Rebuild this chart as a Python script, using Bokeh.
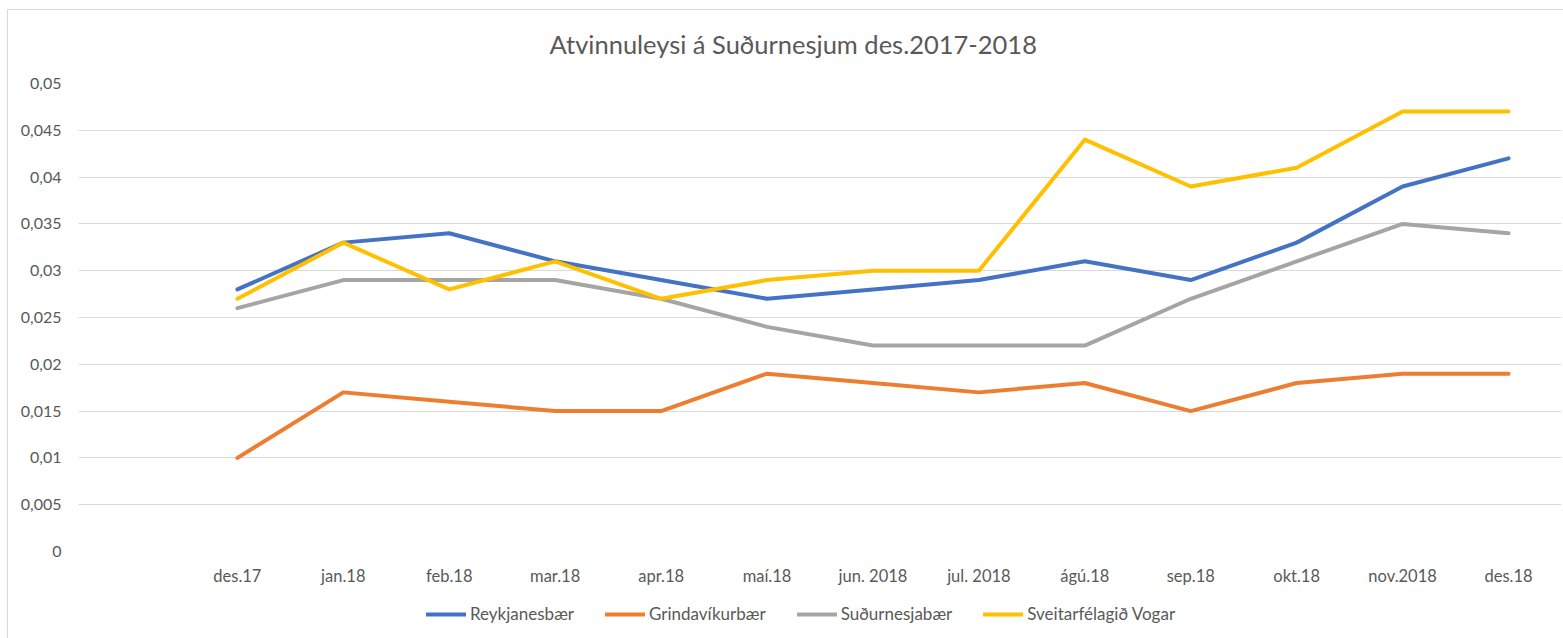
from bokeh.plotting import figure
from bokeh.layouts import column
from bokeh.models import FactorRange, Range1d, FixedTicker, Legend, LegendItem
from bokeh.embed import file_html
from bokeh.resources import INLINE

# ---- data ----
months = ["des.17", "jan.18", "feb.18", "mar.18", "apr.18", "maí.18", "jun. 2018",
          "jul. 2018", "ágú.18", "sep.18", "okt.18", "nov.2018", "des.18"]
reykjanesbaer = [0.028, 0.033, 0.034, 0.031, 0.029, 0.027, 0.028, 0.029, 0.031, 0.029, 0.033, 0.039, 0.042]
grindavikurbaer = [0.010, 0.017, 0.016, 0.015, 0.015, 0.019, 0.018, 0.017, 0.018, 0.015, 0.018, 0.019, 0.019]
sudurnesjabaer = [0.026, 0.029, 0.029, 0.029, 0.027, 0.024, 0.022, 0.022, 0.022, 0.027, 0.031, 0.035, 0.034]
vogar = [0.027, 0.033, 0.028, 0.031, 0.027, 0.029, 0.030, 0.030, 0.044, 0.039, 0.041, 0.047, 0.047]
series_names = ["Reykjanesbær", "Grindavíkurbær", "Suðurnesjabær", "Sveitarfélagið Vogar"]
y_ticks = [0, 0.005, 0.01, 0.015, 0.02, 0.025, 0.03, 0.035, 0.04, 0.045, 0.05]
y_tick_labels = ["0", "0,005", "0,01", "0,015", "0,02", "0,025", "0,03", "0,035", "0,04", "0,045", "0,05"]
title_text = "Atvinnuleysi á Suðurnesjum des.2017-2018"

# ---- style ----
FONT = "Lato"
TXT = "#595959"
GRID = "#d9d9d9"
colors = ["#4472C4", "#ED7D31", "#A5A5A5", "#FFC000"]
series_values = [reykjanesbaer, grindavikurbaer, sudurnesjabaer, vogar]

factors = [" "] + months

p = figure(width=1563, height=595, output_backend="svg", toolbar_location=None,
           x_range=FactorRange(factors=factors, range_padding=0),
           y_range=Range1d(0, 0.05),
           min_border_left=78, min_border_right=2, min_border_top=83, min_border_bottom=44)
p.outline_line_color = None
p.background_fill_color = "white"
p.border_fill_alpha = 0
p.styles = {"background": "linear-gradient(#d9d9d9,#d9d9d9) 7px 9px / 1px 100% no-repeat, "
                          "linear-gradient(#d9d9d9,#d9d9d9) 7px 9px / 1556px 1px no-repeat, white"}

p.title.text = title_text
p.title.text_font = FONT
p.title.text_font_size = "25.5px"
p.title.text_font_style = "normal"
p.title.text_color = TXT
p.title.align = "left"
p.title.offset = 471
p.title.standoff = 49

p.xgrid.grid_line_color = None
p.ygrid.grid_line_color = GRID
p.ygrid.grid_line_width = 1

p.yaxis.ticker = FixedTicker(ticks=y_ticks)
p.yaxis.major_label_overrides = {t: l for t, l in zip(y_ticks, y_tick_labels)}
for ax in (p.xaxis, p.yaxis):
    ax.axis_line_color = None
    ax.major_tick_line_color = None
    ax.minor_tick_line_color = None
    ax.major_tick_out = 0
    ax.major_tick_in = 0
    ax.major_label_text_font = FONT
    ax.major_label_text_color = TXT
p.yaxis.major_label_text_font_size = "16px"
p.xaxis.major_label_text_font_size = "16.5px"
p.yaxis.major_label_standoff = 17
p.xaxis.major_label_standoff = 14

for vals, c in zip(series_values, colors):
    p.line(months, vals, line_color=c, line_width=4, line_cap="round", line_join="round")

# ---- legend strip (separate figure below the chart; its lines lie outside its visible range) ----
pl = figure(width=1563, height=43, output_backend="svg", toolbar_location=None,
            x_range=FactorRange(factors=factors, range_padding=0), y_range=Range1d(1, 2),
            min_border_left=0, min_border_right=0, min_border_top=0, min_border_bottom=0)
pl.axis.visible = False
pl.grid.visible = False
pl.outline_line_color = None
pl.background_fill_alpha = 0
pl.border_fill_alpha = 0
pl.styles = {"background": "linear-gradient(#d9d9d9,#d9d9d9) 7px 0px / 1px 100% no-repeat, white"}

leg_renderers = [pl.line(months, vals, line_color=c, line_width=4, line_cap="round")
                 for vals, c in zip(series_values, colors)]
legend = Legend(items=[LegendItem(label=n, renderers=[r]) for n, r in zip(series_names, leg_renderers)],
                orientation="horizontal", location=(348, 14),
                label_text_font=FONT, label_text_font_size="17px", label_text_color=TXT,
                glyph_width=40, glyph_height=20, label_height=20, label_standoff=4, spacing=31,
                padding=0, margin=0, border_line_color=None, background_fill_alpha=0)
pl.add_layout(legend, "center")

layout = column(p, pl, spacing=0)
open("out.html", "w").write(file_html(layout, INLINE))
